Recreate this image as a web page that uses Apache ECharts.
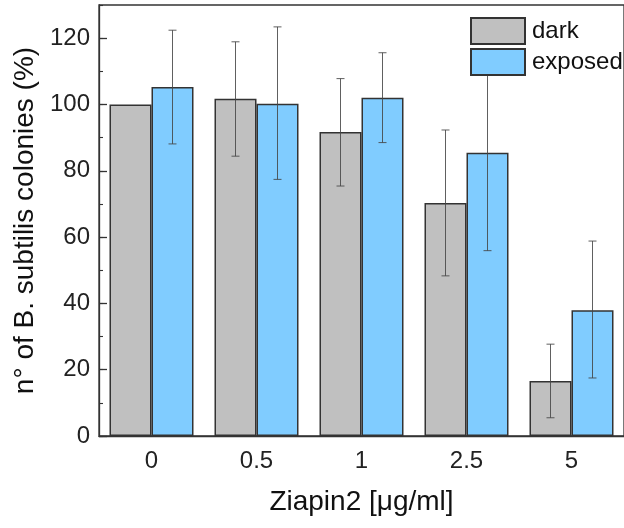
<!DOCTYPE html>
<html>
<head>
<meta charset="utf-8">
<script src="https://cdn.jsdelivr.net/npm/echarts@6/dist/echarts.min.js"></script>
<style>
  html, body { margin: 0; padding: 0; background: #fff; }
  #ec { width: 624px; height: 528px; }
</style>
</head>
<body>
<div id="ec"></div>
<script>
// Ziapin2 dose (µg/ml)
var categories = ["0", "0.5", "1", "2.5", "5"];
// % of B. subtilis colonies
var dark = [100, 101.7, 91.7, 70.3, 16.6];
var exposed = [105.3, 100.2, 102.0, 85.4, 37.9];
// error bar ends (null = no bar)
var darkLow = [null, 84.4, 75.4, 48.3, 5.5];
var darkHigh = [null, 118.9, 107.8, 92.3, 27.7];
var exposedLow = [88.1, 77.4, 88.5, 55.9, 17.5];
var exposedHigh = [122.4, 123.4, 115.6, 114.9, 58.8];

var font = "'Liberation Sans', Arial, sans-serif";
var ink = "#333";

function errData(low, high) {
  var out = [];
  for (var i = 0; i < categories.length; i++) {
    if (low[i] != null) out.push([i, low[i], high[i]]);
  }
  return out;
}

// shift: -1 left bar of the pair, +1 right bar
function errRender(shift) {
  return function (params, api) {
    var i = api.value(0);
    var lo = api.coord([i, api.value(1)]);
    var hi = api.coord([i, api.value(2)]);
    var band = api.size([1, 0])[0];
    var x = lo[0] + shift * band * 0.2;
    var cap = 4;
    var style = { stroke: "#444", lineWidth: 1, opacity: 0.85 };
    return {
      type: "group",
      children: [
        { type: "line", shape: { x1: x, y1: lo[1], x2: x, y2: hi[1] }, style: style },
        { type: "line", shape: { x1: x - cap, y1: lo[1], x2: x + cap, y2: lo[1] }, style: style },
        { type: "line", shape: { x1: x - cap, y1: hi[1], x2: x + cap, y2: hi[1] }, style: style },
      ],
    };
  };
}

var myChart = echarts.init(document.getElementById("ec"));
myChart.setOption({
  animation: false,
  textStyle: { fontFamily: font },
  grid: {
    left: 99,
    top: 5,
    right: -7,
    bottom: 92,
    show: true,
    borderColor: ink,
    borderWidth: 1.3,
  },
  legend: {
    data: ["dark", "exposed"],
    orient: "vertical",
    left: 470,
    top: 17,
    icon: "rect",
    itemWidth: 54,
    itemHeight: 26,
    itemGap: 3,
    padding: 0,
    backgroundColor: "#fff",
    textStyle: { fontSize: 24, color: "#111", fontFamily: font, padding: [0, 0, 0, 2] },
    z: 10,
  },
  xAxis: {
    type: "category",
    data: categories,
    name: "Ziapin2 [\u03bcg/ml]",
    nameLocation: "middle",
    nameGap: 52,
    nameTextStyle: { fontSize: 28, color: "#111", fontFamily: font },
    axisLine: { lineStyle: { color: ink, width: 1.3 } },
    axisTick: { alignWithLabel: true, inside: false, length: 8, lineStyle: { color: ink, width: 1.3 } },
    axisLabel: { fontSize: 24, color: "#222", margin: 13, fontFamily: font },
  },
  yAxis: [
    {
      type: "value",
      min: 0,
      max: 130,
      interval: 20,
      name: "n\u00b0 of B. subtilis colonies (%)",
      nameLocation: "middle",
      nameGap: 56,
      nameTextStyle: { fontSize: 28, color: "#111", fontFamily: font },
      axisLine: { show: true, lineStyle: { color: ink, width: 1.3 } },
      axisTick: { show: true, inside: true, length: 8, lineStyle: { color: ink, width: 1.3 } },
      axisLabel: { fontSize: 24, color: "#222", margin: 9, showMaxLabel: false, fontFamily: font },
      splitLine: { show: false },
    },
    {
      type: "value",
      position: "left",
      offset: 0,
      min: 0,
      max: 130,
      interval: 10,
      axisLine: { show: false },
      axisTick: { show: true, inside: true, length: 4, lineStyle: { color: ink, width: 1.1 } },
      axisLabel: { show: false },
      splitLine: { show: false },
    },
  ],
  series: [
    {
      name: "dark",
      type: "bar",
      data: dark,
      barGap: "0%",
      barCategoryGap: "20%",
      itemStyle: { color: "#c0c0c0", borderColor: ink, borderWidth: 1.5 },
    },
    {
      name: "exposed",
      type: "bar",
      data: exposed,
      barGap: "0%",
      barCategoryGap: "20%",
      itemStyle: { color: "#80ccff", borderColor: ink, borderWidth: 1.5 },
    },
    {
      name: "dark err",
      type: "custom",
      renderItem: errRender(-1),
      data: errData(darkLow, darkHigh),
      encode: { x: 0, y: [1, 2] },
      z: 5,
    },
    {
      name: "exposed err",
      type: "custom",
      renderItem: errRender(1),
      data: errData(exposedLow, exposedHigh),
      encode: { x: 0, y: [1, 2] },
      z: 5,
    },
  ],
});
</script>
</body>
</html>
